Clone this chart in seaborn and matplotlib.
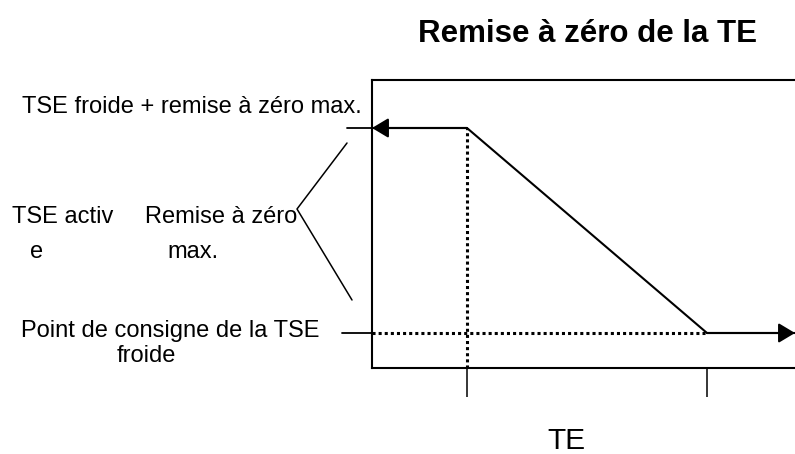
import matplotlib
matplotlib.use("Agg")
import matplotlib.pyplot as plt
import seaborn as sns

sns.set_theme(style="white")
plt.rcParams['font.family'] = ['Liberation Sans', 'DejaVu Sans']
plt.rcParams['text.color'] = 'black'

# Diagram data (box-relative units)
te_points = [0, 95, 335, 423]          # TE breakpoints
tse_points = [240, 240, 35, 35]        # TSE active values
te_ticks = [95, 335]
tse_max = 240                          # TSE froide + remise à zéro max.
tse_setpoint = 35                      # Point de consigne de la TSE froide

title = "Remise à zéro de la TE"
xlabel = "TE"

W, H = 795, 454
fig = plt.figure(figsize=(W / 100, H / 100), dpi=100)
ax = fig.add_axes([372 / W, 86 / H, 423 / W, 288 / H])
ax.set_xlim(0, 423)
ax.set_ylim(0, 288)

for s in ["left", "top", "bottom"]:
    ax.spines[s].set_visible(True)
    ax.spines[s].set_color("black")
    ax.spines[s].set_linewidth(1.5)
ax.spines["right"].set_visible(False)

ax.set_xticks(te_ticks)
ax.set_xticklabels([])
ax.tick_params(axis="x", direction="out", length=21, width=1.1, color="black", bottom=True)
ax.set_yticks([])

# main curve
sns.lineplot(x=te_points, y=tse_points, ax=ax, color="black", linewidth=1.5, sort=False,
             estimator=None, clip_on=False)

# arrow heads
arr = dict(arrowstyle="-|>,head_length=0.5,head_width=0.3", color="black", lw=1.5,
           shrinkA=0, shrinkB=0, mutation_scale=20)
ax.annotate("", xy=(te_points[0], tse_points[0]), xytext=(te_points[1], tse_points[1]),
            arrowprops=arr, annotation_clip=False)
ax.annotate("", xy=(te_points[-1], tse_points[-1]), xytext=(te_points[-2], tse_points[-2]),
            arrowprops=arr, annotation_clip=False)

# dotted guides
ax.plot([te_points[1], te_points[1]], [0, tse_max], color="black", lw=2.2,
        linestyle=(0, (1, 1)), clip_on=False)
ax.plot([0, te_points[2]], [tse_setpoint, tse_setpoint], color="black", lw=2.2,
        linestyle=(0, (1, 1)), clip_on=False)

# leader lines outside box
ax.plot([-25, 0], [tse_max, tse_max], color="black", lw=1.3, clip_on=False)
ax.plot([-30, 0], [tse_setpoint, tse_setpoint], color="black", lw=1.3, clip_on=False)
ax.plot([-25, -75, -20], [225, 159, 68], color="black", lw=1.1, clip_on=False)

def ftext(x, y, s, **kw):
    fig.text(x / W, 1 - y / H, s, **kw)

ftext(587, 42, title, fontsize=22.5, fontweight="bold", ha="center", va="baseline")
fs = 17
ftext(22, 113, "TSE froide + remise à zéro max.", fontsize=fs, ha="left", va="baseline")
ftext(12, 223, "TSE activ", fontsize=fs, ha="left", va="baseline")
ftext(30, 258, "e", fontsize=fs, ha="left", va="baseline")
ftext(145, 223, "Remise à zéro", fontsize=fs, ha="left", va="baseline")
ftext(167, 258, "max.", fontsize=fs, ha="left", va="baseline")
ftext(170, 337, "Point de consigne de la TSE", fontsize=fs, ha="center", va="baseline")
ftext(146, 362, "froide", fontsize=fs, ha="center", va="baseline")
ftext(566, 449, xlabel, fontsize=21.5, ha="center", va="baseline")

fig.savefig("out.png", dpi=100)
